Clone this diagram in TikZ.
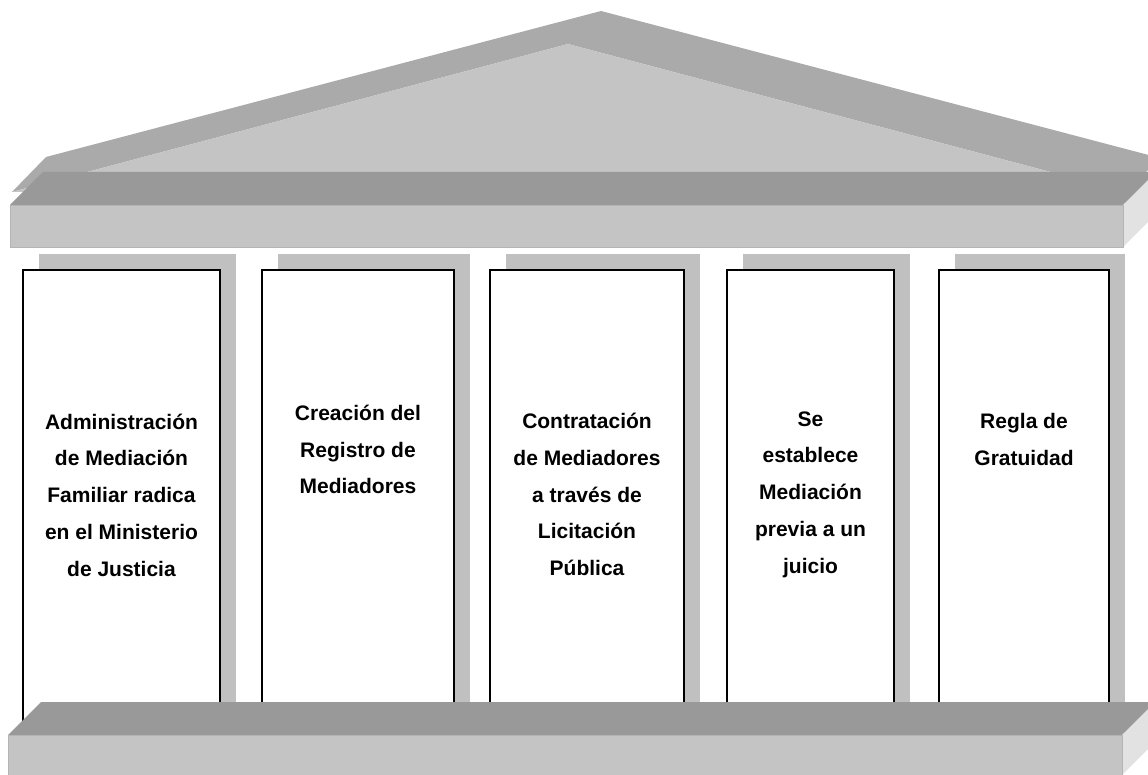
\documentclass[tikz,border=0pt]{standalone}
\usepackage{fontspec}
\setmainfont{Liberation Sans}
\definecolor{rooftop}{HTML}{AAAAAA}
\definecolor{frontface}{HTML}{C4C4C4}
\definecolor{topface}{HTML}{999999}
\definecolor{sideface}{HTML}{E2E2E2}
\definecolor{shade}{HTML}{C0C0C0}
\definecolor{edgeline}{HTML}{B4B4B4}
\tikzset{
  colshadow/.style={fill=shade},
  colbox/.style={draw=black, fill=white, line width=1.3pt},
  coltext/.style={align=center, inner sep=0pt, font=\bfseries\fontsize{21}{36.7}\selectfont},
  frontpart/.style={fill=frontface, draw=edgeline, line width=0.6pt},
  toppart/.style={fill=topface},
  sidepart/.style={fill=sideface},
}
\begin{document}
\begin{tikzpicture}[x=1pt,y=-1pt]
\useasboundingbox (0,0) rectangle (1148,775);
\clip (0,0) rectangle (1148,775);
% roof
\fill[rooftop] (12,192) -- (46,157) -- (601,11) -- (1160,158) -- (1126,192) -- (568,44) -- cycle;
\fill[frontface] (12,192) -- (568,44) -- (1126,192) -- cycle;
% entablature
\fill[toppart] (10,205) -- (43,172) -- (1160,172) -- (1123,205) -- cycle;
\fill[sidepart] (1123,205) -- (1156,172) -- (1156,214) -- (1123,247) -- cycle;
\draw[frontpart] (10,205) rectangle (1123,247);
% columns
\foreach \xa/\xb in {23/220, 262/454, 490/684, 727/894, 939/1109}{
  \fill[colshadow] (\xa+16,254) rectangle (\xb+16,705);
  \draw[colbox] (\xa,270) rectangle (\xb,728);
}
% base
\fill[toppart] (8,735) -- (41,702) -- (1160,702) -- (1122,735) -- cycle;
\fill[sidepart] (1122,735) -- (1155,702) -- (1155,742) -- (1122,775) -- cycle;
\draw[frontpart] (8,735) rectangle (1122,790);
% texts
\node[coltext] (c1) at (121.5,495) {Administración\\de Mediación\\Familiar radica\\en el Ministerio\\de Justicia};
\node[coltext] (c2) at (358,449.5) {Creación del\\Registro de\\Mediadores};
\node[coltext] (c3) at (587,494.5) {Contratación\\de Mediadores\\a través de\\Licitación\\Pública};
\node[coltext] (c4) at (810.5,494.5) {Se\\establece\\Mediación\\previa a un\\juicio};
\node[coltext] (c5) at (1024,439.5) {Regla de\\Gratuidad};
\end{tikzpicture}
\end{document}
